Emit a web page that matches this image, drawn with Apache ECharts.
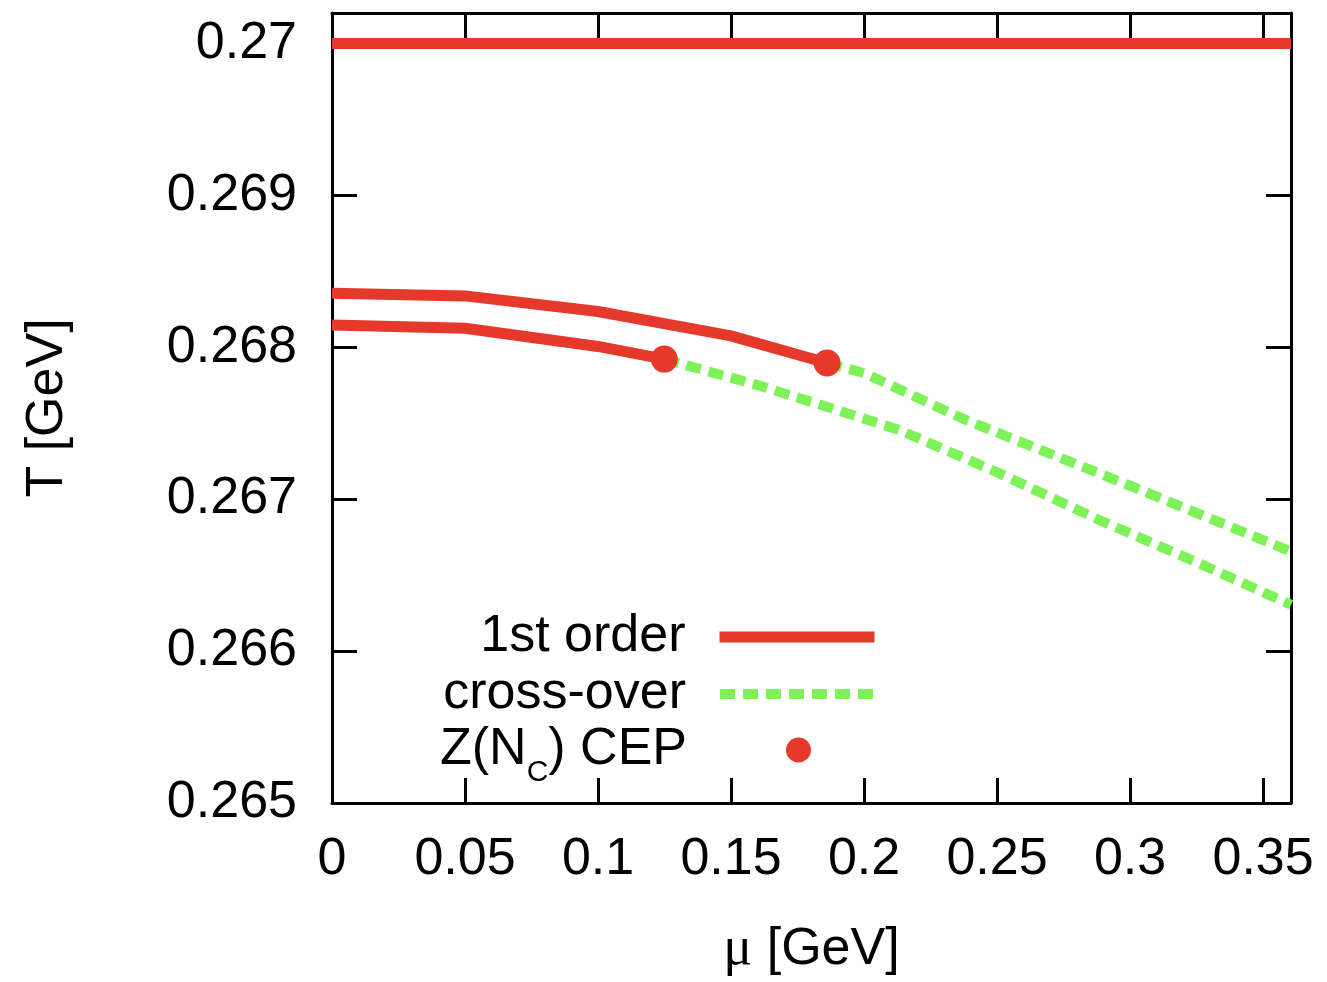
<!DOCTYPE html>
<html>
<head>
<meta charset="utf-8">
<script src="https://cdn.jsdelivr.net/npm/echarts@6/dist/echarts.min.js"></script>
<style>
  html, body { margin: 0; padding: 0; background: #fff; }
  #chart { width: 1327px; height: 982px; }
</style>
</head>
<body>
<div id="chart"></div>
<script>
// ---- data ----
const xTicks = [0, 0.05, 0.1, 0.15, 0.2, 0.25, 0.3, 0.35];
const yTicks = [0.265, 0.266, 0.267, 0.268, 0.269, 0.27];

const topMu = [0, 0.3605];
const topT  = [0.27, 0.27];

const upperFirstMu = [0, 0.05, 0.1, 0.15, 0.1861];
const upperFirstT  = [0.268355, 0.268338, 0.268235, 0.268075, 0.267896];

const lowerFirstMu = [0, 0.05, 0.1, 0.1249];
const lowerFirstT  = [0.268147, 0.268125, 0.268005, 0.267922];

const upperCrossMu = [0.1861, 0.2, 0.238, 0.3005, 0.3605];
const upperCrossT  = [0.267896, 0.26783, 0.267523, 0.267085, 0.266655];

const lowerCrossMu = [0.1249, 0.1617, 0.1755, 0.213, 0.2505, 0.288, 0.3255, 0.3605];
const lowerCrossT  = [0.267922, 0.267742, 0.267666, 0.267457, 0.267173, 0.266866, 0.266581, 0.266305];

const cepMu = [0.1249, 0.1861];
const cepT  = [0.267922, 0.267896];

const seriesNames = ['1st order', 'cross-over', 'Z(N_C) CEP'];
const xAxisTitle = ['μ', ' [GeV]'];
const yAxisTitle = 'T [GeV]';

// ---- helpers ----
const zip = (a, b) => a.map((v, i) => [v, b[i]]);
const RED = '#e5392b';
const GREEN = '#7ff25a';
const FONT = 'Liberation Sans, Arial, sans-serif';
const X_INT = 0.05, Y_INT = 0.001;
const DASH = [15, 8];

function fmt(step) {
  return function (v) {
    const k = v / step;
    if (Math.abs(k - Math.round(k)) > 1e-6) return '';
    return String(parseFloat(v.toFixed(4)));
  };
}

const axisCommon = {
  axisLine: { show: true, onZero: false, lineStyle: { color: '#000', width: 3 } },
  axisTick: { show: true, inside: true, length: 25, lineStyle: { color: '#000', width: 3 } },
  splitLine: { show: false }
};

const chart = echarts.init(document.getElementById('chart'), null, { renderer: 'canvas' });

const legendBase = {
  orient: 'horizontal',
  align: 'right',
  padding: 0,
  itemWidth: 155,
  itemHeight: 25,
  selectedMode: false,
  textStyle: { fontSize: 52, fontFamily: FONT, color: '#000', padding: [0, 29, 0, 0] }
};

chart.setOption({
  animation: false,
  backgroundColor: '#fff',
  grid: { left: 332, top: 13, right: 36, bottom: 178, containLabel: false },
  xAxis: [
    Object.assign({}, axisCommon, {
      type: 'value', position: 'bottom', min: 0, max: 0.3605, interval: X_INT,
      name: '{mu|' + xAxisTitle[0] + '}' + xAxisTitle[1], nameLocation: 'middle', nameGap: 120,
      nameTextStyle: { fontSize: 52, fontFamily: FONT, color: '#000',
        rich: { mu: { fontSize: 54, fontFamily: 'Liberation Serif, DejaVu Serif, serif', color: '#000' } } },
      axisLabel: { show: true, fontSize: 52, fontFamily: FONT, color: '#000', margin: 31, formatter: fmt(X_INT) }
    }),
    Object.assign({}, axisCommon, {
      type: 'value', position: 'top', min: 0, max: 0.3605, interval: X_INT,
      axisLabel: { show: false }
    })
  ],
  yAxis: [
    Object.assign({}, axisCommon, {
      type: 'value', position: 'left', min: 0.265, max: 0.2702, interval: Y_INT,
      name: yAxisTitle, nameLocation: 'middle', nameGap: 258, nameRotate: 90,
      nameTextStyle: { fontSize: 52, fontFamily: FONT, color: '#000' },
      axisLabel: { show: true, fontSize: 52, fontFamily: FONT, color: '#000', margin: 35, formatter: fmt(Y_INT) }
    }),
    Object.assign({}, axisCommon, {
      type: 'value', position: 'right', min: 0.265, max: 0.2702, interval: Y_INT,
      axisLabel: { show: false }
    })
  ],
  legend: [
    Object.assign({}, legendBase, {
      data: [seriesNames[0]], right: 447, top: 611,
      lineStyle: { width: 11, color: RED, type: 'solid' },
      itemStyle: { opacity: 0 }
    }),
    Object.assign({}, legendBase, {
      data: [seriesNames[1]], right: 447, top: 668,
      lineStyle: { width: 10, color: GREEN, type: DASH, cap: 'butt' },
      itemStyle: { opacity: 0 }
    }),
    Object.assign({}, legendBase, {
      data: [seriesNames[2]], right: 516, top: 724,
      formatter: function () { return 'Z(N{sub|C}) CEP'; },
      textStyle: {
        fontSize: 52, fontFamily: FONT, color: '#000', padding: [0, 29, 0, 0],
        rich: { sub: { fontSize: 30, fontFamily: FONT, color: '#000', padding: [46, 0, 0, 0] } }
      }
    })
  ],
  series: [
    { name: seriesNames[0], type: 'line', data: zip(topMu, topT), symbol: 'none', clip: true,
      lineStyle: { color: RED, width: 11 }, itemStyle: { color: RED }, z: 2 },
    { name: seriesNames[0], type: 'line', data: zip(upperFirstMu, upperFirstT), symbol: 'none', clip: true,
      lineStyle: { color: RED, width: 11 }, itemStyle: { color: RED }, z: 2 },
    { name: seriesNames[0], type: 'line', data: zip(lowerFirstMu, lowerFirstT), symbol: 'none', clip: true,
      lineStyle: { color: RED, width: 11 }, itemStyle: { color: RED }, z: 2 },
    { name: seriesNames[1], type: 'line', data: zip(upperCrossMu, upperCrossT), symbol: 'none', clip: true,
      lineStyle: { color: GREEN, width: 10, type: DASH, cap: 'butt' }, itemStyle: { color: GREEN }, z: 2 },
    { name: seriesNames[1], type: 'line', data: zip(lowerCrossMu, lowerCrossT), symbol: 'none', clip: true,
      lineStyle: { color: GREEN, width: 10, type: DASH, cap: 'butt' }, itemStyle: { color: GREEN }, z: 2 },
    { name: seriesNames[2], type: 'scatter', data: zip(cepMu, cepT), symbol: 'circle', symbolSize: 27,
      itemStyle: { color: RED, opacity: 1 }, z: 5 }
  ]
});
</script>
</body>
</html>
